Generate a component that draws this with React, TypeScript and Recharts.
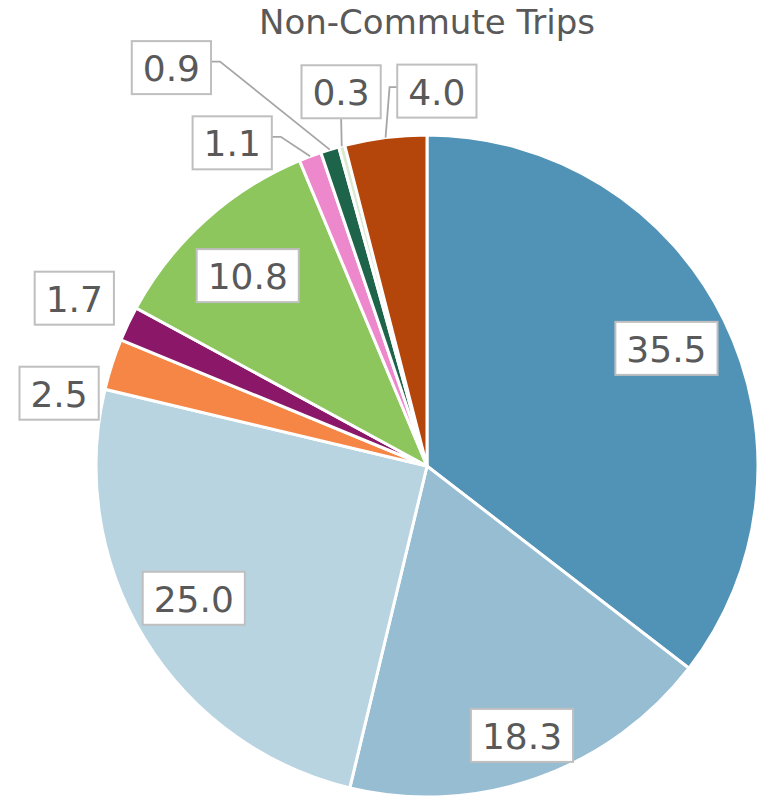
import { Cell, Pie, PieChart } from "recharts";

const categories = ["A", "B", "C", "D", "E", "F", "G", "H", "I", "J"];
const shares = [35.5, 18.3, 25.0, 2.5, 1.7, 10.8, 1.1, 0.9, 0.3, 4.0];
const colors = [
  "#5193b6",
  "#97bdd3",
  "#b8d4e0",
  "#f58645",
  "#8a1767",
  "#8cc65c",
  "#ee88cc",
  "#1e644a",
  "#d9ead0",
  "#b5460b",
];

// label placement: radius as a fraction of the pie radius, angle shift (deg, clockwise) from the slice middle
const labelRadius = [0.806, 0.863, 0.81, 1.133, 1.18, 0.79, 1.14, 1.43, 1.16, 1.133];
const labelShift = [0, 0, 2, -6.7, 0, -1.2, -10.4, -15.6, 2, 8.7];
const leader = ["none", "none", "none", "none", "none", "none", "right", "right", "bottom", "left"];

const data = categories.map((name, i) => ({ name, value: shares[i] }));

const RAD = Math.PI / 180;
const FONT = 36;
const TEXT = "#595959";
const FAMILY = "'DejaVu Sans', sans-serif";

function textWidth(s: string) {
  let w = 0;
  for (const ch of s) w += ch === "." ? FONT * 0.318 : FONT * 0.636;
  return w;
}

function renderLabel(props: any) {
  const { cx, cy, midAngle, outerRadius, index, value } = props;
  // recharts angle is counter-clockwise from 3 o'clock
  const ang = midAngle - labelShift[index];
  const r = outerRadius * labelRadius[index];
  const x = cx + r * Math.cos(-ang * RAD);
  const y = cy + r * Math.sin(-ang * RAD);
  const ax = cx + outerRadius * Math.cos(-midAngle * RAD);
  const ay = cy + outerRadius * Math.sin(-midAngle * RAD);
  const txt = Number(value).toFixed(1);
  const w = textWidth(txt) + 22;
  const h = 53;
  let line: string | null = null;
  const kind = leader[index];
  if (kind === "right") {
    const bx = x + w / 2;
    const by = y - 6;
    line = `${bx},${by} ${bx + 9},${by} ${ax},${ay}`;
  } else if (kind === "bottom") {
    line = `${x},${y + h / 2} ${ax},${ay}`;
  } else if (kind === "left") {
    const bx = x - w / 2;
    const by = y - 4;
    line = `${bx},${by} ${ax + 4},${by} ${ax},${ay}`;
  }
  return (
    <g key={`lbl-${index}`}>
      {line && <polyline points={line} fill="none" stroke="#a6a6a6" strokeWidth={1.8} />}
      <rect x={x - w / 2} y={y - h / 2} width={w} height={h} fill="#ffffff" stroke="#bfbfbf" strokeWidth={2} />
      <text
        x={x}
        y={y + 1}
        textAnchor="middle"
        dominantBaseline="central"
        fontSize={FONT}
        fill={TEXT}
        fontFamily={FAMILY}
      >
        {txt}
      </text>
    </g>
  );
}

export default function App() {
  return (
    <div style={{ position: "absolute", left: 0, top: 0, width: 764, height: 799, background: "#fff" }}>
      <div
        style={{
          position: "absolute",
          left: 227,
          top: 6,
          width: 400,
          textAlign: "center",
          fontSize: 34,
          lineHeight: "32px",
          color: TEXT,
          fontFamily: FAMILY,
          whiteSpace: "nowrap",
        }}
      >
        Non-Commute Trips
      </div>
      <PieChart width={764} height={799}>
        <Pie
          data={data}
          dataKey="value"
          nameKey="name"
          cx={422}
          cy={461}
          outerRadius={331}
          startAngle={90}
          endAngle={-270}
          stroke="#ffffff"
          strokeWidth={3}
          label={renderLabel}
          labelLine={false}
          isAnimationActive={false}
        >
          {data.map((d, i) => (
            <Cell key={d.name} fill={colors[i]} />
          ))}
        </Pie>
      </PieChart>
    </div>
  );
}
